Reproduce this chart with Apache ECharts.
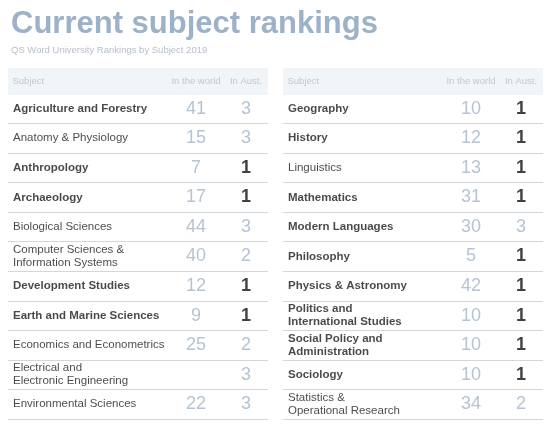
<!DOCTYPE html>
<html>
<head>
<meta charset="utf-8">
<script src="https://cdn.jsdelivr.net/npm/echarts@6/dist/echarts.min.js"></script>
<style>html,body{margin:0;padding:0;background:#fff}#c{width:555px;height:438px}</style>
</head>
<body>
<div id="c"></div>
<script>
// ---- data ----
const columnHeaders = ['Subject', 'In the world', 'In Aust.'];

const leftSubjects = [
  'Agriculture and Forestry',
  'Anatomy & Physiology',
  'Anthropology',
  'Archaeology',
  'Biological Sciences',
  'Computer Sciences &\nInformation Systems',
  'Development Studies',
  'Earth and Marine Sciences',
  'Economics and Econometrics',
  'Electrical and\nElectronic Engineering',
  'Environmental Sciences'
];
const leftWorld = [41, 15, 7, 17, 44, 40, 12, 9, 25, null, 22];
const leftAust  = [3, 3, 1, 1, 3, 2, 1, 1, 2, 3, 3];
const leftHighlighted = [true, false, true, true, false, false, true, true, false, false, false];

const rightSubjects = [
  'Geography',
  'History',
  'Linguistics',
  'Mathematics',
  'Modern Languages',
  'Philosophy',
  'Physics & Astronomy',
  'Politics and\nInternational Studies',
  'Social Policy and\nAdministration',
  'Sociology',
  'Statistics &\nOperational Research'
];
const rightWorld = [10, 12, 13, 31, 30, 5, 42, 10, 10, 10, 34];
const rightAust  = [1, 1, 1, 1, 3, 1, 1, 1, 1, 1, 2];
const rightHighlighted = [true, true, false, true, true, true, true, true, true, true, false];

// ---- styling ----
const FONT = "'Liberation Sans', Arial, Helvetica, sans-serif";
const NUM_COLOR = '#a2b4c8';
const HEAD_COLOR = '#c0c8d2';
const LINE_COLOR = '#d3d7db';

const grids = [], xAxes = [], yAxes = [], series = [], graphics = [];

function addTable(tableLeft, subjects, world, aust, highlighted) {
  const top = 94, height = 325, width = 260;
  // header band
  graphics.push({
    type: 'rect', z: 5,
    shape: { x: tableLeft, y: 68, width: width, height: 27 },
    style: { fill: '#f2f5f8' }
  });
  // separator lines grid
  let gi = grids.length;
  grids.push({ left: tableLeft, top: top, width: width, height: height });
  xAxes.push({ type: 'value', gridIndex: gi, show: false, min: 0, max: 1 });
  yAxes.push({
    type: 'category', gridIndex: gi, data: subjects, inverse: true,
    axisLine: { show: false }, axisTick: { show: false }, axisLabel: { show: false },
    splitLine: { show: true, lineStyle: { color: LINE_COLOR, width: 1 } }
  });

  const cols = [
    { left: tableLeft + 4, w: 1, align: 'left' },
    { left: tableLeft + 164, w: 48, align: 'center' },
    { left: tableLeft + 218, w: 40, align: 'center' }
  ];
  cols.forEach((c, ci) => {
    const g = grids.length;
    grids.push({ left: c.left, top: top, width: c.w, height: height });
    xAxes.push({
      type: 'category', gridIndex: g, data: [columnHeaders[ci]], position: 'top', z: 10,
      axisLine: { show: false }, axisTick: { show: false },
      axisLabel: { color: HEAD_COLOR, fontSize: 9.5, fontFamily: FONT, margin: 8, align: c.align }
    });
    yAxes.push({ type: 'category', gridIndex: g, data: subjects, inverse: true, show: false });

    let data = [];
    subjects.forEach((s, i) => {
      if (ci === 0) {
        data.push({
          name: s, value: [0, i],
          label: { fontWeight: highlighted[i] ? 'bold' : 'normal' }
        });
      } else if (ci === 1) {
        if (world[i] !== null) data.push({ name: String(world[i]), value: [0, i] });
      } else {
        const top1 = aust[i] === 1;
        data.push({
          name: String(aust[i]), value: [0, i],
          label: { fontWeight: top1 ? 'bold' : 'normal', color: top1 ? '#111111' : NUM_COLOR }
        });
      }
    });
    series.push({
      type: 'scatter', xAxisIndex: g, yAxisIndex: g, silent: true,
      symbolSize: 1, itemStyle: { color: 'rgba(0,0,0,0)' },
      data: data,
      label: ci === 0
        ? { show: true, position: 'right', distance: 0, formatter: '{b}', color: '#1a1a1a',
            fontSize: 11.5, lineHeight: 13, fontFamily: FONT }
        : { show: true, position: 'inside', formatter: '{b}', color: NUM_COLOR,
            fontSize: 18, fontFamily: FONT }
    });
  });
}

addTable(8, leftSubjects, leftWorld, leftAust, leftHighlighted);
addTable(283, rightSubjects, rightWorld, rightAust, rightHighlighted);

const chart = echarts.init(document.getElementById('c'), null, { renderer: 'canvas' });
chart.setOption({
  backgroundColor: '#ffffff',
  animation: false,
  title: {
    text: 'Current subject rankings',
    subtext: 'QS Word University Rankings by Subject 2019',
    left: 6, top: 4, itemGap: 5,
    textStyle: { fontSize: 31, fontWeight: 'bold', color: '#9db1c8', fontFamily: FONT },
    subtextStyle: { fontSize: 9.5, color: '#b7bec6', fontFamily: FONT }
  },
  graphic: graphics,
  grid: grids,
  xAxis: xAxes,
  yAxis: yAxes,
  series: series
});
</script>
</body>
</html>
